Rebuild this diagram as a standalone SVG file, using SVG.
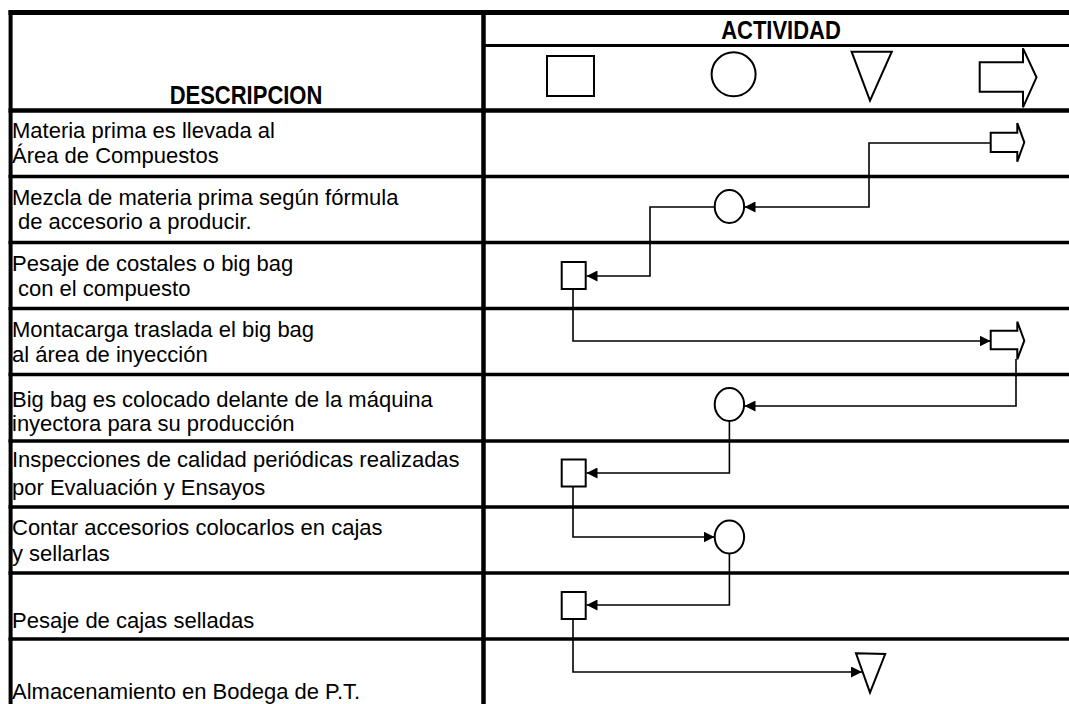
<svg xmlns="http://www.w3.org/2000/svg" width="1069" height="704" viewBox="0 0 1069 704">
<style>
  .grid { stroke: #000; fill: none; }
  .txt { font-family: "Liberation Sans", Arial, sans-serif; font-size: 22px; fill: #000; }
  .hdr { font-family: "Liberation Sans", Arial, sans-serif; font-size: 22px; font-weight: bold; fill: #000; }
  .shape { fill: #fff; stroke: #000; stroke-width: 2; }
  .conn { fill: none; stroke: #000; stroke-width: 1.6; marker-end: url(#ah); }
</style>
<defs>
  <marker id="ah" viewBox="0 0 10 10" refX="10" refY="5" markerUnits="userSpaceOnUse" markerWidth="11" markerHeight="11" orient="auto">
    <path d="M0,0 L10,5 L0,10 z" fill="#000"/>
  </marker>
</defs>
<rect width="1069" height="704" fill="#fff"/>

<g id="table">
  <line class="grid" x1="8.5" y1="12.5" x2="1069" y2="12.5" stroke-width="5"/>
  <line class="grid" x1="10.6" y1="10" x2="10.6" y2="704" stroke-width="4"/>
  <line class="grid" x1="483.5" y1="10" x2="483.5" y2="704" stroke-width="4.5"/>
  <line class="grid" x1="483.5" y1="45.5" x2="1069" y2="45.5" stroke-width="3"/>
  <line class="grid" x1="8.5" y1="110.5" x2="1069" y2="110.5" stroke-width="4.5"/>
  <line class="grid" x1="8.5" y1="176.5" x2="1069" y2="176.5" stroke-width="3.5"/>
  <line class="grid" x1="8.5" y1="242.5" x2="1069" y2="242.5" stroke-width="3.5"/>
  <line class="grid" x1="8.5" y1="308.5" x2="1069" y2="308.5" stroke-width="3.5"/>
  <line class="grid" x1="8.5" y1="374.5" x2="1069" y2="374.5" stroke-width="3.5"/>
  <line class="grid" x1="8.5" y1="441" x2="1069" y2="441" stroke-width="3.5"/>
  <line class="grid" x1="8.5" y1="507" x2="1069" y2="507" stroke-width="3.5"/>
  <line class="grid" x1="8.5" y1="573" x2="1069" y2="573" stroke-width="3.5"/>
  <line class="grid" x1="8.5" y1="639" x2="1069" y2="639" stroke-width="3.5"/>
</g>

<g id="headers">
  <text class="hdr" text-anchor="middle" transform="translate(781,38.5) scale(1,1.2)">ACTIVIDAD</text>
  <text class="hdr" text-anchor="middle" transform="translate(246,104) scale(1,1.2)">DESCRIPCION</text>
</g>

<g id="legend">
  <rect class="shape" x="547" y="56" width="47" height="40"/>
  <circle class="shape" cx="733.6" cy="74.3" r="22"/>
  <polygon class="shape" points="851.6,51.7 891.8,51.7 870,100.7"/>
  <polygon class="shape" points="979.7,62.3 1023,62.3 1023,48.3 1036.5,77.3 1023,107.3 1023,91.7 979.7,91.7"/>
</g>

<g id="descriptions">
  <text class="txt" x="12" y="138">Materia prima es llevada al</text>
  <text class="txt" x="12" y="163">Área de Compuestos</text>
  <text class="txt" x="12" y="205">Mezcla de materia prima según fórmula</text>
  <text class="txt" x="18" y="229">de accesorio a producir.</text>
  <text class="txt" x="12" y="271">Pesaje de costales o big bag</text>
  <text class="txt" x="18" y="296">con el compuesto</text>
  <text class="txt" x="12" y="337">Montacarga traslada el big bag</text>
  <text class="txt" x="12" y="362">al área de inyección</text>
  <text class="txt" x="12" y="407">Big bag es colocado delante de la máquina</text>
  <text class="txt" x="12" y="431">inyectora para su producción</text>
  <text class="txt" x="12" y="467">Inspecciones de calidad periódicas realizadas</text>
  <text class="txt" x="12" y="495">por Evaluación y Ensayos</text>
  <text class="txt" x="12" y="535">Contar accesorios colocarlos en cajas</text>
  <text class="txt" x="12" y="561">y sellarlas</text>
  <text class="txt" x="12" y="628">Pesaje de cajas selladas</text>
  <text class="txt" x="12" y="699">Almacenamiento en Bodega de P.T.</text>
</g>

<g id="connectors">
  <polyline class="conn" points="990.7,143 869,143 869,207 744.5,207"/>
  <polyline class="conn" points="714.7,207 650,207 650,276 586.5,276"/>
  <polyline class="conn" points="573,289 573,341 990.5,341"/>
  <polyline class="conn" points="1016,359 1016,406 744.5,406"/>
  <polyline class="conn" points="729.4,421 729.4,473 586.5,473"/>
  <polyline class="conn" points="573,487 573,537 714.5,537"/>
  <polyline class="conn" points="729.4,553.5 729.4,605 586.5,605"/>
  <polyline class="conn" points="573,619 573,672 862,672"/>
</g>

<g id="n1"><polygon class="shape" points="990.7,132.7 1017.3,132.7 1017.3,123 1024.3,142.3 1017.3,161.7 1017.3,152 990.7,152"/></g>
<g id="n2"><ellipse class="shape" cx="729.4" cy="206.5" rx="14.7" ry="16.5"/></g>
<g id="n3"><rect class="shape" x="561.7" y="262" width="24" height="27"/></g>
<g id="n4"><polygon class="shape" points="990.7,330.7 1017.3,330.7 1017.3,321.7 1024.3,340.7 1017.3,359.3 1017.3,349.3 990.7,349.3"/></g>
<g id="n5"><ellipse class="shape" cx="729.4" cy="404.5" rx="14.7" ry="16.5"/></g>
<g id="n6"><rect class="shape" x="561.7" y="459.5" width="24" height="27"/></g>
<g id="n7"><ellipse class="shape" cx="729.4" cy="537" rx="14.7" ry="16.5"/></g>
<g id="n8"><rect class="shape" x="561.7" y="592" width="24" height="27"/></g>
<g id="n9"><polygon class="shape" points="856,653.3 885.2,654 870,692.7"/></g>
</svg>
